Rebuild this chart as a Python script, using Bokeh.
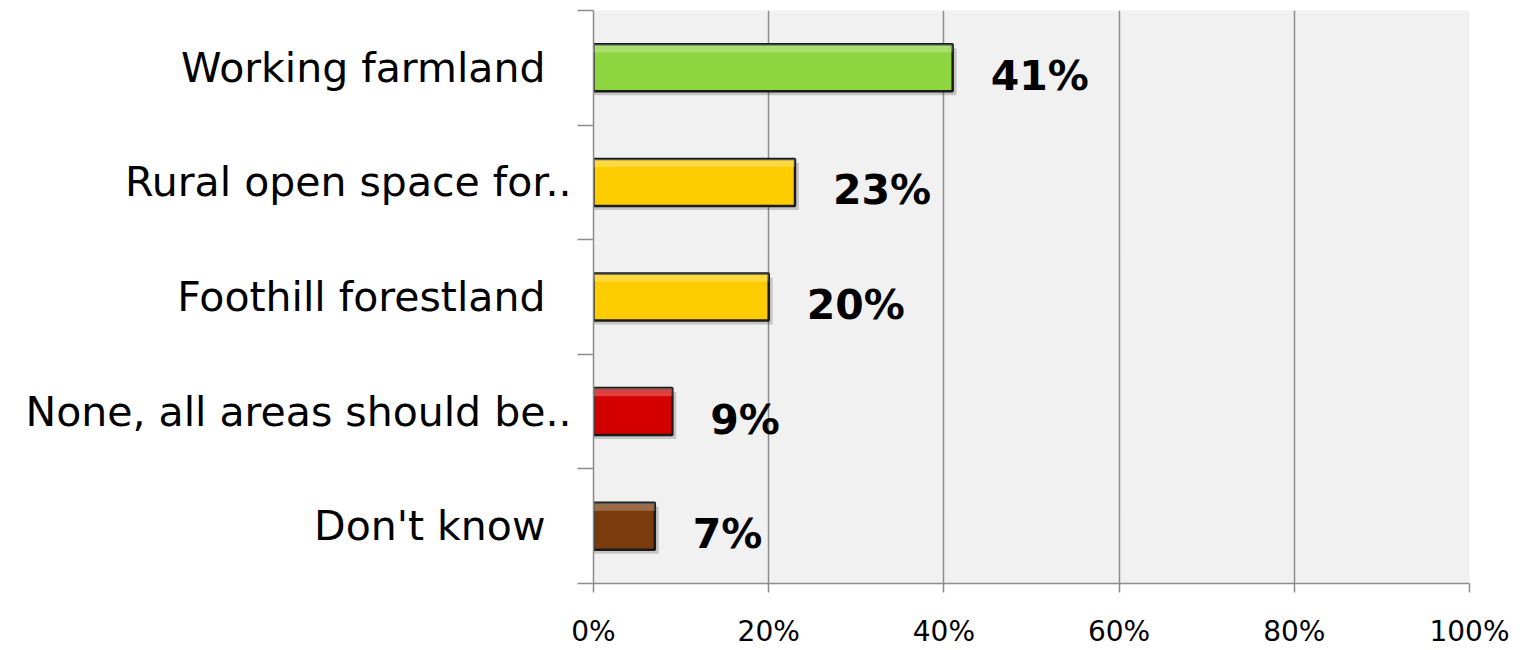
from bokeh.plotting import figure
from bokeh.models import Range1d, FixedTicker, PrintfTickFormatter, ColumnDataSource
from bokeh.core.properties import value
from bokeh.embed import file_html
from bokeh.resources import INLINE

categories = ["Working farmland", "Rural open space for..", "Foothill forestland",
              "None, all areas should be..", "Don't know"]
label_pad = ["\u00a0\u00a0", "", "\u00a0\u00a0", "", "\u00a0\u00a0"]
values = [41, 23, 20, 9, 7]
colors = ["#8ed63f", "#ffcc00", "#ffcc00", "#d40000", "#7a3c0c"]
value_labels = ["41%", "23%", "20%", "9%", "7%"]
x_ticks = [0, 20, 40, 60, 80, 100]

n = len(categories)
ypos = [n - i - 0.5 for i in range(n)]
bar_h = 0.41

src = ColumnDataSource(dict(
    y=ypos, v=values, c=colors, lab=value_labels,
    top=[y + bar_h / 2 for y in ypos], bottom=[y - bar_h / 2 for y in ypos],
    hl_bottom=[y + bar_h / 2 - 0.07 for y in ypos],
    sh_right=[v + 0.45 for v in values],
    sh_top=[y + bar_h / 2 - 0.035 for y in ypos],
    sh_bottom=[y - bar_h / 2 - 0.035 for y in ypos],
))

p = figure(width=1525, height=650, output_backend="svg", toolbar_location=None,
           x_range=Range1d(0, 100), y_range=Range1d(0, n),
           min_border_left=593, min_border_right=56, min_border_top=10, min_border_bottom=10)
p.frame_width = 876
p.frame_height = 573
p.background_fill_color = "#f1f1f1"
p.border_fill_color = "white"
p.outline_line_color = None

# grid
p.ygrid.grid_line_color = None
p.xgrid.grid_line_color = "#8c8c8c"
p.xgrid.grid_line_width = 1.5
p.xgrid.ticker = FixedTicker(ticks=x_ticks)

# x axis
xa = p.xaxis[0]
xa.ticker = FixedTicker(ticks=x_ticks)
xa.formatter = PrintfTickFormatter(format="%d%%")
xa.axis_line_color = "#8c8c8c"
xa.axis_line_width = 1.5
xa.major_tick_line_color = "#8c8c8c"
xa.major_tick_line_width = 1.5
xa.major_tick_out = 9
xa.major_tick_in = 0
xa.minor_tick_line_color = None
xa.major_label_text_font = "DejaVu Sans"
xa.major_label_text_font_size = "28px"
xa.major_label_text_color = "black"
xa.major_label_standoff = 22

# y axis
ya = p.yaxis[0]
ya.ticker = FixedTicker(ticks=ypos, minor_ticks=list(range(n + 1)))
ya.major_label_overrides = {y: c + pad for y, c, pad in zip(ypos, categories, label_pad)}
ya.axis_line_color = "#8c8c8c"
ya.axis_line_width = 1.5
ya.major_tick_line_color = None
ya.major_tick_out = 0
ya.major_tick_in = 0
ya.minor_tick_line_color = "#8c8c8c"
ya.minor_tick_line_width = 1.5
ya.minor_tick_out = 16
ya.minor_tick_in = 0
ya.major_label_text_font = "DejaVu Sans"
ya.major_label_text_font_size = "41px"
ya.major_label_text_color = "black"
ya.major_label_standoff = 6

# shadow
p.quad(left=0, right="sh_right", top="sh_top", bottom="sh_bottom", source=src,
       fill_color="black", fill_alpha=0.18, line_color=None)
# bars
p.quad(left=0, right="v", top="top", bottom="bottom", source=src,
       fill_color="c", line_color="#1a1a1a", line_width=2.5)
# bevel highlight
p.quad(left=0, right="v", top="top", bottom="hl_bottom", source=src,
       fill_color="white", fill_alpha=0.25, line_color=None)

# value labels
p.text(x="v", y="y", text="lab", source=src, x_offset=38, y_offset=8,
       text_font=value("DejaVu Sans"), text_font_style="bold", text_font_size="41px",
       text_align="left", text_baseline="middle", text_color="black")

open("out.html", "w").write(file_html(p, INLINE))
